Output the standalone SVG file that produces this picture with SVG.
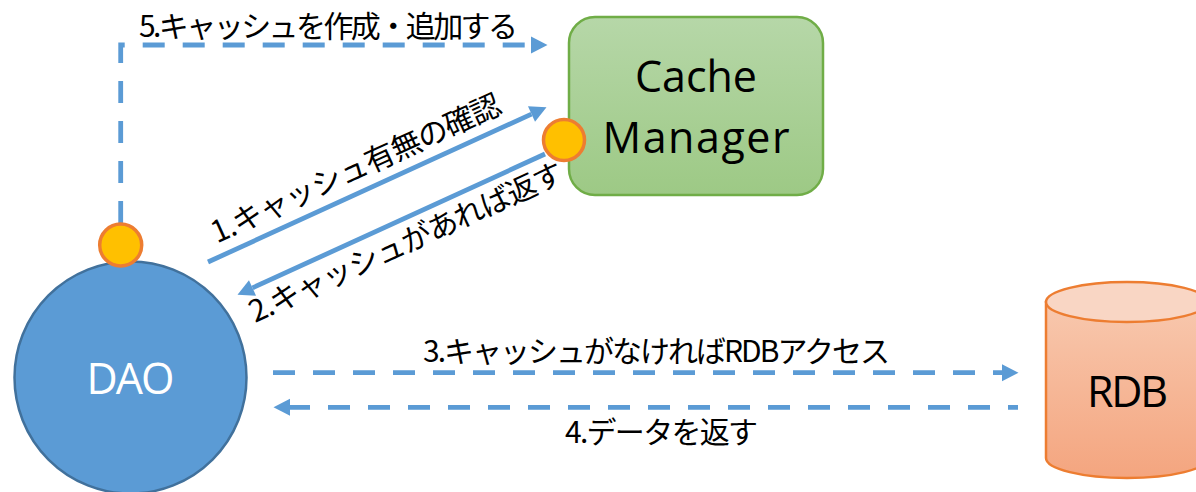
<svg xmlns="http://www.w3.org/2000/svg" width="1196" height="492" viewBox="0 0 1196 492">
  <style>
    .conn { fill: none; stroke: #5B9BD5; stroke-width: 4.8; }
    .dash { stroke-dasharray: 22 18; }
    .lbl { font-family: "Noto Sans CJK JP", "Noto Sans", sans-serif; font-size: 30px; fill: #000; }
    .node-text { font-family: "Open Sans", "Liberation Sans", sans-serif; font-size: 43px; text-anchor: middle; }
    .port { fill: #FFC000; stroke: #ED7D31; stroke-width: 3.5; }
  </style>
  <defs>
    <marker id="head" markerUnits="userSpaceOnUse" markerWidth="18" markerHeight="18" refX="0" refY="8.5" orient="auto" overflow="visible">
      <path d="M0,0 L16.5,8.5 L0,17 z" fill="#5B9BD5"/>
    </marker>
    <linearGradient id="gGreen" x1="0" y1="0" x2="0" y2="1">
      <stop offset="0" stop-color="#B6D7A8"/>
      <stop offset="1" stop-color="#9DC985"/>
    </linearGradient>
    <linearGradient id="gOrange" x1="0" y1="0" x2="0" y2="1">
      <stop offset="0" stop-color="#F8C8AE"/>
      <stop offset="1" stop-color="#F4A57F"/>
    </linearGradient>
  </defs>

  <!-- connectors and their labels -->
  <g id="connectors">
    <path class="conn dash" d="M120.7,223 V45 H531" marker-end="url(#head)"/>
    <path class="conn" d="M208,262 L531.5,114.1" marker-end="url(#head)"/>
    <path class="conn" d="M545,154 L252.5,287.9" marker-end="url(#head)"/>
    <path class="conn dash" d="M273,372.7 H1002" marker-end="url(#head)"/>
    <path class="conn dash" d="M1018,407.3 H290" stroke-dashoffset="12" marker-end="url(#head)"/>

    <text class="lbl" x="139" y="37" textLength="379">5.キャッシュを作成・追加する</text>
    <text class="lbl" transform="translate(217.1,243.5) rotate(-24.57)" textLength="315">1.キャッシュ有無の確認</text>
    <text class="lbl" transform="translate(255,323) rotate(-24.57)" textLength="342">2.キャッシュがあれば返す</text>
    <text class="lbl" x="423" y="362" textLength="467">3.キャッシュがなければRDBアクセス</text>
    <text class="lbl" x="565" y="443" textLength="193">4.データを返す</text>
  </g>

  <!-- DAO -->
  <g id="dao">
    <circle cx="130.5" cy="377.5" r="116" fill="#5B9BD5" stroke="#41719C" stroke-width="2.5"/>
    <text class="node-text" x="130.5" y="394" fill="#FFFFFF" textLength="88">DAO</text>
  </g>
  <g id="dao-port">
    <circle class="port" cx="120.7" cy="245" r="21"/>
  </g>

  <!-- Cache Manager -->
  <g id="cache-manager">
    <rect x="569" y="17" width="254" height="178" rx="26" ry="26" fill="url(#gGreen)" stroke="#70AD47" stroke-width="2.5"/>
    <text class="node-text" x="696" y="92" fill="#000" textLength="122">Cache</text>
    <text class="node-text" x="696" y="153" fill="#000" textLength="187">Manager</text>
  </g>
  <g id="cache-port">
    <circle class="port" cx="564" cy="140" r="20.5"/>
  </g>

  <!-- RDB -->
  <g id="rdb">
    <path d="M1046,302 V458 A81,20 0 0 0 1208,458 V302 Z" fill="url(#gOrange)" stroke="#ED7D31" stroke-width="2.5"/>
    <ellipse cx="1127" cy="302" rx="81" ry="20" fill="#F9D6C4" stroke="#ED7D31" stroke-width="2.5"/>
    <text class="node-text" x="1127.5" y="407" fill="#000" textLength="81">RDB</text>
  </g>
</svg>
